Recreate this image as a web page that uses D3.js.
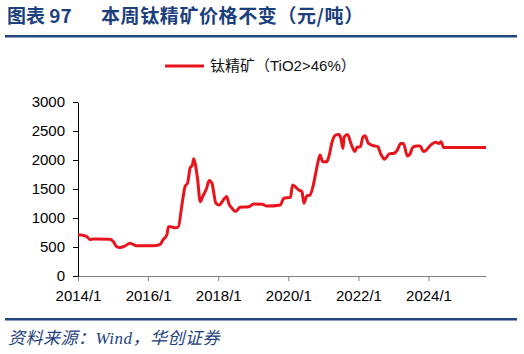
<!DOCTYPE html>
<html>
<head>
<meta charset="utf-8">
<script src="https://cdn.jsdelivr.net/npm/d3@7"></script>
<style>
	body { margin: 0; background: #fff; }
	svg { display: block; }
</style>
</head>
<body>
<div id="chart"></div>
<script>
// Data: 钛精矿（TiO2>46%）price, yuan/ton
const dates = [
	"2014-01-03", "2014-02-25", "2014-04-01", "2014-05-05", "2014-06-13", "2014-11-28",
	"2015-01-02", "2015-02-06", "2015-03-13", "2015-05-08", "2015-06-26", "2015-09-04",
	"2016-02-26", "2016-05-06", "2016-06-03", "2016-07-15", "2016-08-01", "2016-08-26",
	"2016-10-07", "2016-11-11", "2016-12-16", "2017-01-20", "2017-02-17", "2017-03-14",
	"2017-04-07", "2017-04-21", "2017-05-12", "2017-05-30", "2017-06-28", "2017-07-26",
	"2017-09-01", "2017-09-29", "2017-10-27", "2017-12-08", "2018-01-12", "2018-02-23",
	"2018-03-30", "2018-04-20", "2018-05-25", "2018-06-29", "2018-08-17", "2018-11-16",
	"2019-01-04", "2019-04-05", "2019-05-24", "2019-10-11", "2019-11-15", "2020-01-24",
	"2020-02-14", "2020-03-13", "2020-04-17", "2020-05-22", "2020-06-12", "2020-07-10",
	"2020-08-14", "2020-09-18", "2020-10-09", "2020-11-06", "2020-11-27", "2020-12-25",
	"2021-02-05", "2021-02-26", "2021-04-02", "2021-05-07", "2021-06-11", "2021-07-02",
	"2021-07-23", "2021-08-06", "2021-09-10", "2021-10-15", "2021-11-26", "2021-12-17",
	"2022-01-21", "2022-02-18", "2022-03-11", "2022-04-15", "2022-06-10", "2022-07-22",
	"2022-08-19", "2022-09-30", "2022-11-18", "2023-01-06", "2023-02-10", "2023-03-17",
	"2023-04-14", "2023-05-26", "2023-06-23", "2023-07-21", "2023-09-01", "2023-10-06",
	"2023-11-10", "2023-12-08", "2024-01-26", "2024-03-15", "2024-04-19", "2024-05-10",
	"2024-06-07", "2025-08-22"
];
const prices = [
	710, 700, 680, 630, 640, 635,
	600, 510, 490, 520, 565, 520,
	520, 545, 620, 710, 850, 850,
	830, 845, 1195, 1540, 1610, 1860,
	1915, 2020, 1885, 1685, 1280, 1380,
	1510, 1645, 1600, 1255, 1225, 1310,
	1370, 1255, 1165, 1110, 1185, 1195,
	1240, 1235, 1205, 1225, 1340, 1355,
	1570, 1540, 1485, 1455, 1255, 1380,
	1395, 1570, 1740, 1970, 2085, 1970,
	1970, 2055, 2315, 2430, 2440, 2375,
	2200, 2400, 2440, 2285, 2145, 2220,
	2230, 2400, 2420, 2285, 2245, 2230,
	2115, 2015, 2105, 2115, 2170, 2285,
	2285, 2070, 2105, 2220, 2240, 2240,
	2145, 2170, 2260, 2305, 2285, 2315,
	2215, 2215
];
const yTicks = [0, 500, 1000, 1500, 2000, 2500, 3000];
const xTicks = ["2014-01-01", "2016-01-01", "2018-01-01", "2020-01-01", "2022-01-01", "2024-01-01"];
const seriesName = "钛精矿（TiO2>46%）";

const width = 524, height = 354;
const margin = { top: 102, right: 38, bottom: 78, left: 78 };
const parse = d3.timeParse("%Y-%m-%d");
const data = dates.map((d, i) => [parse(d), prices[i]]);

const svg = d3.select("#chart").append("svg")
	.attr("width", width).attr("height", height);

const titleColor = "#1c3f7e";

// Title
svg.append("text").attr("x", 7).attr("y", 23)
	.style("font", "bold 19px 'Noto Sans CJK SC'").attr("fill", titleColor)
	.text("图表 97");
svg.append("text").attr("x", 101).attr("y", 23)
	.style("font", "bold 19px 'Noto Sans CJK SC'").style("letter-spacing", "0.6px").attr("fill", titleColor)
	.text("本周钛精矿价格不变（元/吨）");
svg.append("rect").attr("x", 5).attr("y", 35).attr("width", 512).attr("height", 2.5).attr("fill", "#23467f");

// Scales
const x = d3.scaleTime()
	.domain([parse("2014-01-01"), data[data.length - 1][0]])
	.range([margin.left, width - margin.right]);
const y = d3.scaleLinear().domain([0, 3000]).range([height - margin.bottom, margin.top]);

// Axes
const axisX = svg.append("g")
	.attr("transform", `translate(0, ${height - margin.bottom})`)
	.call(d3.axisBottom(x).tickValues(xTicks.map(parse)).tickSize(5).tickSizeOuter(0)
		.tickFormat(d3.timeFormat("%Y/%-m")));
axisX.select(".domain").attr("stroke", "#808080");
axisX.selectAll(".tick line").attr("stroke", "#808080");

const axisY = svg.append("g")
	.attr("transform", `translate(${margin.left}, 0)`)
	.call(d3.axisLeft(y).tickValues(yTicks).tickFormat(d3.format("d"))
		.tickSize(5).tickSizeOuter(0).tickPadding(8));
axisY.select(".domain").attr("stroke", "#000");

svg.selectAll(".tick text")
	.style("font", "15px 'Liberation Sans', Arial, sans-serif").attr("fill", "#000");
axisX.selectAll(".tick text").attr("dy", "1.1em");

// Line
const line = d3.line().x(d => x(d[0])).y(d => y(d[1])).curve(d3.curveMonotoneX);
svg.append("path").datum(data)
	.attr("d", line).attr("fill", "none")
	.attr("stroke", "#e8141c").attr("stroke-width", 3).attr("stroke-linejoin", "round");

// Legend
svg.append("line").attr("x1", 165).attr("x2", 204).attr("y1", 66).attr("y2", 66)
	.attr("stroke", "#e8141c").attr("stroke-width", 3);
svg.append("text").attr("x", 210).attr("y", 71)
	.style("font", "15px 'Liberation Sans', 'Noto Sans CJK SC', sans-serif").attr("fill", "#111")
	.text(seriesName);

// Footer
svg.append("rect").attr("x", 5).attr("y", 318).attr("width", 512).attr("height", 2.5).attr("fill", "#23467f");
svg.append("text").attr("x", 8).attr("y", 344)
	.style("font", "italic 17px 'Liberation Serif', 'Noto Sans CJK SC', serif").style("letter-spacing", "0.5px")
	.attr("fill", titleColor)
	.text("资料来源：Wind，华创证券");
</script>
</body>
</html>
